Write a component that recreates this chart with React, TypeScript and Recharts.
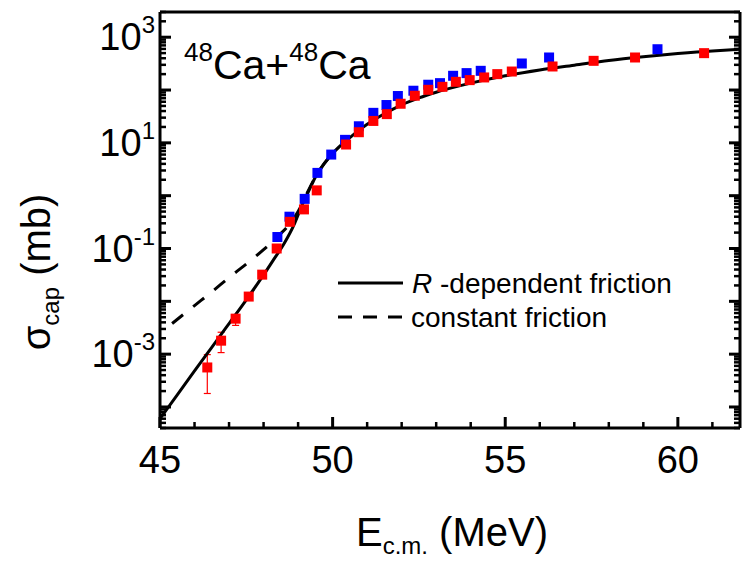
import React from 'react';
import { ComposedChart, ErrorBar, Line, Scatter, XAxis, YAxis } from 'recharts';

const FONT = '"Liberation Sans", Arial, Helvetica, sans-serif';

// x axis, E_c.m. in MeV
const X_MAJOR = [45, 50, 55, 60];
const X_MINOR = [46, 47, 48, 49, 51, 52, 53, 54, 56, 57, 58, 59, 61];
const X_DOMAIN = [45, 61.8];

// y axis, sigma_cap in mb (log)
const Y_DECADES = [1e-5, 1e-4, 1e-3, 1e-2, 1e-1, 1, 1e1, 1e2, 1e3];
const Y_LABELED = [1e-3, 1e-1, 1e1, 1e3];
const Y_STEPS = [2, 3, 4, 5, 6, 7, 8, 9];
const Y_DOMAIN = [4e-5, 3000];

// experiment (red)
const RED_E = [46.37, 46.77, 47.19, 47.57, 47.96, 48.38, 48.76, 49.17, 49.54, 50.39, 50.76, 51.18, 51.57, 51.97,
  52.38, 52.77, 53.18, 53.57, 53.97, 54.39, 54.77, 55.19, 56.37, 57.56, 58.76, 60.76];
const RED_SIGMA = [5.6e-4, 1.8e-3, 4.7e-3, 0.0123, 0.032, 0.1, 0.32, 0.55, 1.26, 9.3, 15.9, 26, 35, 55,
  78, 101, 115, 143, 154, 173, 200, 224, 279, 357, 413, 499];
const RED_ERR_LOW = [3.8e-4, 7.3e-4, 1.2e-3];
const RED_ERR_HIGH = [4.2e-4, 8e-4, 5e-4];

// experiment (blue)
const BLUE_E = [48.4, 48.75, 49.19, 49.56, 49.96, 50.36, 50.76, 51.18, 51.56, 51.89, 52.34, 52.77, 53.11, 53.49,
  53.88, 54.29, 55.48, 56.27, 59.41];
const BLUE_SIGMA = [0.165, 0.4, 0.87, 2.7, 6.0, 11.4, 20.6, 37, 52, 77, 97, 126, 135, 186, 209, 231, 318, 413, 592];

// R-dependent friction
const SOLID_E = [45, 45.5, 46, 46.5, 47, 47.5, 48, 48.3, 48.6, 48.9, 49.1, 49.3, 49.5, 49.75, 50, 50.5, 51, 51.5,
  52, 52.5, 53, 54, 55, 56, 57, 58, 59, 60, 61, 61.8];
const SOLID_SIGMA = [6.0e-5, 1.7e-4, 4.8e-4, 1.35e-3, 3.8e-3, 0.0107, 0.0316, 0.063, 0.126, 0.3, 0.63, 1.2, 2.24,
  4.0, 6.3, 12.6, 22.4, 35.5, 52.5, 71, 91, 135, 186, 240, 295, 363, 427, 490, 550, 589];

// constant friction
const DASH_E = [45.35, 46, 46.5, 47, 47.5, 48, 48.4, 48.8, 49.1, 49.3, 49.5, 49.75, 50];
const DASH_SIGMA = [3.8e-3, 8.3e-3, 0.0151, 0.0282, 0.051, 0.095, 0.166, 0.316, 0.66, 1.26, 2.24, 4.0, 6.3];

const zip = (es: number[], ss: number[]) => es.map((e, i) => ({ e, s: ss[i] }));

const redData = RED_E.map((e, i) => ({
  e,
  s: RED_SIGMA[i],
  err: [RED_ERR_LOW[i] ?? 0, RED_ERR_HIGH[i] ?? 0],
}));
const blueData = zip(BLUE_E, BLUE_SIGMA);
const solidData = zip(SOLID_E, SOLID_SIGMA);
const dashData = zip(DASH_E, DASH_SIGMA);

const X_TICKS = [...X_MAJOR, ...X_MINOR].sort((a, b) => a - b);
const Y_TICKS = Y_DECADES.flatMap((d) => [d, ...Y_STEPS.map((s) => d * s)])
  .filter((v) => v >= Y_DOMAIN[0] && v <= Y_DOMAIN[1]);

const isDecade = (v: number) => Math.abs(Math.log10(v) - Math.round(Math.log10(v))) < 1e-6;

const BottomTick = ({ x, y, payload }: any) => {
  const major = X_MAJOR.includes(payload.value);
  return (
    <g>
      <line x1={x} x2={x} y1={y} y2={y - (major ? 11 : 6)} stroke="#000" strokeWidth={major ? 3 : 2.5} />
      {major && (
        <text x={x} y={y + 45} textAnchor="middle" fontSize={38} fontFamily={FONT} fill="#000">
          {payload.value}
        </text>
      )}
    </g>
  );
};

const TopTick = ({ x, y, payload }: any) => {
  const major = X_MAJOR.includes(payload.value);
  return <line x1={x} x2={x} y1={y} y2={y + (major ? 11 : 6)} stroke="#000" strokeWidth={major ? 3 : 2.5} />;
};

const LeftTick = ({ x, y, payload }: any) => {
  const v = payload.value;
  const major = isDecade(v);
  const labeled = Y_LABELED.some((l) => Math.abs(l - v) / l < 1e-6);
  return (
    <g>
      <line x1={x} x2={x + (major ? 11 : 6)} y1={y} y2={y} stroke="#000" strokeWidth={major ? 3 : 2.5} />
      {labeled && (
        <text x={x - 5} y={y + 13} textAnchor="end" fontSize={38} fontFamily={FONT} fill="#000">
          10
          <tspan dy={-17} fontSize={24}>{Math.round(Math.log10(v))}</tspan>
        </text>
      )}
    </g>
  );
};

const RightTick = ({ x, y, payload }: any) => {
  const major = isDecade(payload.value);
  return <line x1={x} x2={x - (major ? 11 : 6)} y1={y} y2={y} stroke="#000" strokeWidth={major ? 3 : 2.5} />;
};

const square = (color: string) => (props: any) => (
  <rect x={props.cx - 5} y={props.cy - 5} width={10} height={10} fill={color} />
);

const App: React.FC = () => {
  return (
    <div style={{ position: 'absolute', left: 0, top: 0, width: 744, height: 562, background: '#fff' }}>
      <ComposedChart width={744} height={562} margin={{ top: 0, right: 0, bottom: 0, left: 0 }}>
        <XAxis
          type="number"
          dataKey="e"
          domain={X_DOMAIN}
          allowDataOverflow
          ticks={X_TICKS}
          interval={0}
          tickSize={0}
          tickMargin={0}
          tickLine={false}
          tick={<BottomTick />}
          axisLine={{ stroke: '#000', strokeWidth: 3 }}
          height={134}
        />
        <XAxis
          xAxisId="top"
          orientation="top"
          type="number"
          domain={X_DOMAIN}
          allowDataOverflow
          ticks={X_TICKS}
          interval={0}
          tickSize={0}
          tickMargin={0}
          tickLine={false}
          tick={<TopTick />}
          axisLine={{ stroke: '#000', strokeWidth: 3 }}
          height={12}
        />
        <YAxis
          type="number"
          dataKey="s"
          scale="log"
          domain={Y_DOMAIN}
          allowDataOverflow
          ticks={Y_TICKS}
          interval={0}
          tickSize={0}
          tickMargin={0}
          tickLine={false}
          tick={<LeftTick />}
          axisLine={{ stroke: '#000', strokeWidth: 3 }}
          width={160}
        />
        <YAxis
          yAxisId="right"
          orientation="right"
          type="number"
          scale="log"
          domain={Y_DOMAIN}
          allowDataOverflow
          ticks={Y_TICKS}
          interval={0}
          tickSize={0}
          tickMargin={0}
          tickLine={false}
          tick={<RightTick />}
          axisLine={{ stroke: '#000', strokeWidth: 3 }}
          width={4}
        />
        <Scatter data={blueData} dataKey="s" shape={square('#0000ff')} isAnimationActive={false} />
        <Scatter data={redData} dataKey="s" shape={square('#ff0000')} isAnimationActive={false}>
          <ErrorBar dataKey="err" direction="y" width={3.5} stroke="#ff0000" strokeWidth={1.2} />
        </Scatter>
        <Line
          data={dashData}
          dataKey="s"
          type="monotone"
          stroke="#000"
          strokeWidth={3}
          strokeDasharray="14 13"
          dot={false}
          isAnimationActive={false}
        />
        <Line
          data={solidData}
          dataKey="s"
          type="monotone"
          stroke="#000"
          strokeWidth={3}
          dot={false}
          isAnimationActive={false}
        />
      </ComposedChart>

      <svg width={744} height={562} style={{ position: 'absolute', left: 0, top: 0, pointerEvents: 'none' }}>
        <g fontFamily={FONT} fill="#000">
          {/* reaction */}
          <text x={184} y={79} fontSize={41}>
            <tspan dy={-18} fontSize={26}>48</tspan>
            <tspan dy={18}>Ca+</tspan>
            <tspan dy={-18} fontSize={26}>48</tspan>
            <tspan dy={18}>Ca</tspan>
          </text>

          {/* legend */}
          <line x1={338} x2={403} y1={283} y2={283} stroke="#000" strokeWidth={3} />
          <text x={412} y={293} fontSize={28}>
            <tspan fontStyle="italic">R</tspan> -dependent friction
          </text>
          <line x1={338} x2={403} y1={317} y2={317} stroke="#000" strokeWidth={3} strokeDasharray="14 11" />
          <text x={411} y={327} fontSize={28}>constant friction</text>

          {/* axis titles */}
          <text x={452} y={546} fontSize={40} textAnchor="middle">
            E<tspan dy={8} fontSize={24}>c.m.</tspan>
            <tspan dy={-8}> (MeV)</tspan>
          </text>
          <text x={50} y={272} fontSize={40} textAnchor="middle" transform="rotate(-90 50 272)">
            σ<tspan dy={9} fontSize={24}>cap</tspan>
            <tspan dy={-9}> (mb)</tspan>
          </text>
        </g>
      </svg>
    </div>
  );
};

export default App;
